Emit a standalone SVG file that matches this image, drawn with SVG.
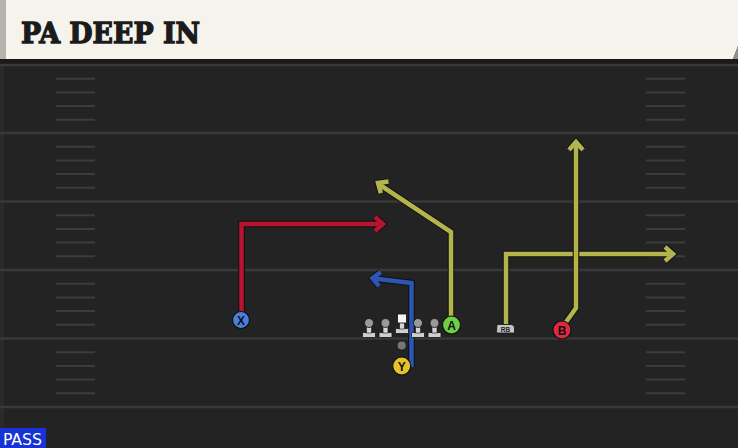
<svg xmlns="http://www.w3.org/2000/svg" width="738" height="448" viewBox="0 0 738 448">
<defs>
<style>
.yard{stroke:#393939;stroke-width:2.5;fill:none}
.hash{stroke:#3c3c3c;stroke-width:2;fill:none}
.out{fill:none;stroke:#111;stroke-width:6.5;stroke-linejoin:miter;stroke-linecap:butt}
.rt{fill:none;stroke-width:4.5;stroke-linejoin:miter;stroke-linecap:butt}
.red{stroke:#b8142f}
.blue{stroke:#2c56b3}
.olive{stroke:#b4b44c}
.lbl{font-family:"Liberation Sans",Arial,sans-serif;font-size:12px;font-weight:bold;fill:#111;text-anchor:middle}
.ring{stroke:#111;stroke-width:1.2}
</style>
<g id="hashset">
<line class="hash" x1="0" y1="13.7" x2="39" y2="13.7"/>
<line class="hash" x1="0" y1="27.4" x2="39" y2="27.4"/>
<line class="hash" x1="0" y1="41.1" x2="39" y2="41.1"/>
<line class="hash" x1="0" y1="54.8" x2="39" y2="54.8"/>
</g>
<g id="lineman">
<rect x="-6.5" y="9.5" width="13" height="5" rx="1" fill="#cfcfcf" stroke="#111" stroke-width="0.8"/>
<rect x="-2.5" y="3" width="5" height="7" fill="#d6d6d6" stroke="#111" stroke-width="0.6"/>
<circle cx="0" cy="0" r="4.5" fill="#9a9a9a" stroke="#111" stroke-width="0.8"/>
</g>
</defs>
<rect x="0" y="0" width="738" height="448" fill="#232323"/>
<rect x="0" y="59" width="738" height="5" fill="#1a1a1a"/>
<rect x="0" y="64" width="4" height="384" fill="#2a2a2a"/>
<g id="field">
<line class="yard" x1="0" y1="65" x2="738" y2="65"/>
<line class="yard" x1="0" y1="133" x2="738" y2="133"/>
<line class="yard" x1="0" y1="201.5" x2="738" y2="201.5"/>
<line class="yard" x1="0" y1="270" x2="738" y2="270"/>
<line class="yard" x1="0" y1="338.5" x2="738" y2="338.5"/>
<line class="yard" x1="0" y1="407" x2="738" y2="407"/>
<use href="#hashset" x="56" y="65"/>
<use href="#hashset" x="56" y="133"/>
<use href="#hashset" x="56" y="201.5"/>
<use href="#hashset" x="56" y="270"/>
<use href="#hashset" x="56" y="338.5"/>
<use href="#hashset" x="646" y="65"/>
<use href="#hashset" x="646" y="133"/>
<use href="#hashset" x="646" y="201.5"/>
<use href="#hashset" x="646" y="270"/>
<use href="#hashset" x="646" y="338.5"/>
</g>
<g id="header">
<polygon points="0,0 738,0 738,46 733,59 0,59" fill="#f5f3ec"/>
<polygon points="738,46 738,59 733,59" fill="#8e8e8a"/>
<rect x="0" y="0" width="6" height="59" fill="#b4b4ae"/>
<text x="21" y="43" font-family="'DejaVu Serif',serif" font-weight="bold" font-size="28" fill="#1b1b1b" stroke="#1b1b1b" stroke-width="1.3" textLength="179" lengthAdjust="spacingAndGlyphs">PA DEEP IN</text>
</g>
<g id="connectors">
<path class="out" d="M241.5,312 V224 H382"/>
<path class="out" d="M375,217 L383,224 L375,231"/>
<path class="rt red" d="M241.5,312 V224 H382"/>
<path class="rt red" d="M375,217 L383,224 L375,231"/>
<path class="out" d="M411.5,367 V283 L374,278.5"/>
<path class="out" d="M380.8,272.1 L372.5,278.2 L379,286"/>
<path class="rt blue" d="M411.5,367 V283 L374,278.5"/>
<path class="rt blue" d="M380.8,272.1 L372.5,278.2 L379,286"/>
<path class="out" d="M451,316 V232 L380,185"/>
<path class="out" d="M388.5,181.6 L378,183 L380.8,193.2"/>
<path class="rt olive" d="M451,316 V232 L380,185"/>
<path class="rt olive" d="M388.5,181.6 L378,183 L380.8,193.2"/>
<path class="out" d="M506,324 V254 H671"/>
<path class="out" d="M665,247 L673,254 L665,261"/>
<path class="rt olive" d="M506,324 V254 H671"/>
<path class="rt olive" d="M665,247 L673,254 L665,261"/>
<path class="out" d="M566,322 L576,308 V144"/>
<path class="out" d="M569,150 L576,142 L583,150"/>
<path class="rt olive" d="M566,322 L576,308 V144"/>
<path class="rt olive" d="M569,150 L576,142 L583,150"/>
</g>
<g id="line">
<use href="#lineman" x="369" y="323"/>
<use href="#lineman" x="385.5" y="323"/>
<use href="#lineman" x="418" y="323"/>
<use href="#lineman" x="434.5" y="323"/>
</g>
<g id="center">
<rect x="395.5" y="328.5" width="13" height="5" rx="1" fill="#cfcfcf" stroke="#111" stroke-width="0.8"/>
<rect x="399.5" y="322" width="5" height="7" fill="#d6d6d6" stroke="#111" stroke-width="0.6"/>
<rect x="397.5" y="314" width="9" height="9" fill="#f4f4f4" stroke="#111" stroke-width="0.8"/>
</g>
<g id="ball"><circle cx="401.7" cy="345.5" r="4" fill="#777"/></g>
<g id="X"><circle class="ring" cx="241" cy="320" r="8.5" fill="#4a7fe0"/><text class="lbl" x="241" y="324.5">X</text></g>
<g id="Y"><circle class="ring" cx="401.7" cy="366" r="9" fill="#e6c12a"/><text class="lbl" x="401.7" y="370.5">Y</text></g>
<g id="A"><circle class="ring" cx="451.5" cy="325" r="9" fill="#6ccf44"/><text class="lbl" x="451.5" y="329.5" font-weight="normal">A</text></g>
<g id="B"><circle class="ring" cx="562" cy="330" r="9" fill="#de2a40"/><text class="lbl" x="562" y="334.5">B</text></g>
<g id="RB"><path d="M497,324.5 H511 Q514.5,324.5 514.5,328 V333 H498 Q496.5,333 496.5,331.5 Z" fill="#c4c4c4" stroke="#111" stroke-width="0.8"/><text x="505.5" y="331.5" font-family="'Liberation Sans',Arial,sans-serif" font-size="6.5" font-weight="bold" fill="#222" text-anchor="middle">RB</text></g>
<g id="pass"><rect x="0" y="428" width="46" height="20" fill="#1533d6"/><text x="3" y="445" font-family="'DejaVu Sans Condensed','DejaVu Sans',sans-serif" font-size="15" fill="#ffffff" textLength="39" lengthAdjust="spacingAndGlyphs">PASS</text></g>
</svg>
